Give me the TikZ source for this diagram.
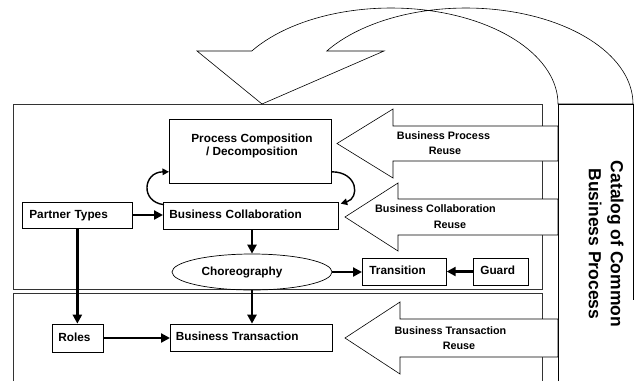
\documentclass[tikz,border=0pt]{standalone}
\usepackage{fontspec}
\setmainfont{Liberation Sans}
\usetikzlibrary{arrows.meta,shapes.geometric}
\newcommand\boxfont{\fontsize{11.8}{13}\selectfont\bfseries}
\newcommand\reusefont{\fontsize{10.8}{13}\selectfont\bfseries}
\newcommand\catfont{\fontsize{17.5}{22}\selectfont\bfseries}
\begin{document}
\begin{tikzpicture}[x=1pt,y=-1pt,
  frame/.style={draw=black!80, line width=0.6pt},
  box/.style={draw, line width=0.7pt, fill=white, inner ysep=0pt, font=\boxfont, align=left, anchor=west, text height=8.5pt, text depth=2.3pt},
  bigarrow/.style={line width=2.6pt, -{Triangle[length=9pt,width=9pt]}},
  looparrow/.style={line width=1.4pt, -{Triangle[length=6.5pt,width=6.5pt]}},
  reuse/.style={font=\reusefont, inner sep=0pt, text height=7.8pt, text depth=0pt},
  blockarrow/.style={draw, fill=white, line width=0.6pt, line join=miter}
]
\useasboundingbox (0,0) rectangle (634,381);

% frames
\draw[frame] (13,104) rectangle (542,289);
\draw[frame] (13,381) -- (13,293) -- (542,293) -- (542,381);

% reuse block arrows
\draw[blockarrow] (558,126) -- (393,126) -- (393,109) -- (337,143.5) -- (393,178) -- (393,161) -- (558,161) -- cycle;
\draw[blockarrow] (558,199) -- (398,199) -- (398,183) -- (345,217) -- (398,251) -- (398,235) -- (558,235) -- cycle;
\draw[blockarrow] (558,319) -- (400,319) -- (400,302) -- (345,338) -- (400,374) -- (400,357) -- (558,357) -- cycle;

\node[reuse] (bpr1) at (443.5,136) {Business Process};
\node[reuse] (bpr2) at (445,151) {Reuse};
\node[reuse] (bcr1) at (435.5,209) {Business Collaboration};
\node[reuse] (bcr2) at (450,225) {Reuse};
\node[reuse] (btr1) at (450.5,331) {Business Transaction};
\node[reuse] (btr2) at (459,346) {Reuse};

% catalog box
\draw[line width=0.6pt] (558,381) -- (558,104) -- (633,104) -- (633,300);
\node[font=\catfont, rotate=-90, align=center, inner sep=0pt] (cat) at (606,244) {Catalog of Common\\Business Process};

% big curved arrow
\draw[line width=0.6pt, line join=miter] (262,104) -- (197,51) -- (252,51)
  -- plot[domain=146.5:0, samples=60] ({391+167*cos(\x)},{104-96*sin(\x)})
  -- (633,104)
  -- plot[domain=0:146.5, samples=60] ({466+167*cos(\x)},{104-96*sin(\x)})
  -- (384,51) -- cycle;

% process composition box
\node[draw, line width=0.8pt, minimum width=162pt, minimum height=64pt, anchor=north west, inner sep=0pt] (proc) at (169,119) {};
\node[font=\boxfont, align=center, inner sep=0pt] (proctext) at (252,145.5) {Process Composition\\/ Decomposition};

% boxes
\node[box, inner xsep=7pt, text width=96pt, minimum height=26pt] (pt) at (22,215) {Partner Types};
\node[box, inner xsep=6pt, text width=163pt, minimum height=27pt] (bc) at (163,215.5) {Business Collaboration};
\node[draw, line width=0.7pt, ellipse, minimum width=160pt, minimum height=36pt, inner sep=0pt, font=\boxfont] (ch) at (252,272) {\hspace*{-20pt}Choreography};
\node[box, inner xsep=7pt, text width=70pt, minimum height=27pt] (tr) at (362,271.5) {Transition};
\node[box, inner xsep=7pt, text width=41pt, minimum height=27pt] (gd) at (473,271.5) {Guard};
\node[box, inner xsep=6pt, text width=39pt, minimum height=28pt] (ro) at (52,338) {Roles};
\node[box, inner xsep=5.5pt, text width=151pt, minimum height=27pt] (bt) at (170,337.5) {Business Transaction};

% connectors
\draw[bigarrow] (pt.east) -- (pt.east -| bc.west);
\draw[bigarrow] (ch.north |- bc.south) -- (ch.north);
\draw[bigarrow] (ch.east) -- (ch.east -| tr.west);
\draw[bigarrow] (gd.west) -- (gd.west -| tr.east);
\draw[bigarrow] (pt.south) -- (pt.south |- ro.north);
\draw[bigarrow] (ch.south) -- (ch.south |- bt.north);
\draw[bigarrow] (ro.east) -- (ro.east -| bt.west);

% loops
\draw[looparrow] ([xshift=1pt,yshift=-3pt]bc.north west) .. controls (140,202) and (143,172) .. ([yshift=12pt]proc.south west);
\draw[looparrow] ([yshift=12pt]proc.south east) .. controls (358,172) and (360,198) .. ([xshift=2pt,yshift=-2pt]bc.north east);
\end{tikzpicture}
\end{document}
